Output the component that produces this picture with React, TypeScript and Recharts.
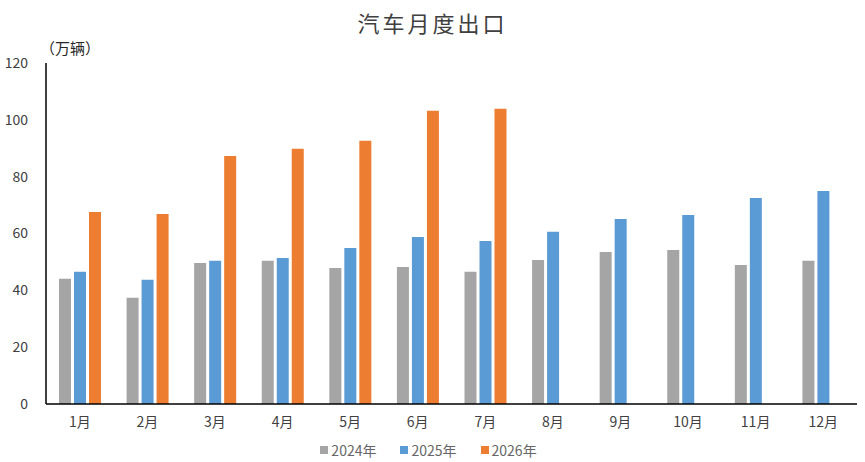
import React from 'react'
import { BarChart, Bar, XAxis, YAxis, Legend } from 'recharts'

const months = ['1月', '2月', '3月', '4月', '5月', '6月', '7月', '8月', '9月', '10月', '11月', '12月']
const exports2024 = [44.1, 37.4, 49.6, 50.4, 47.9, 48.2, 46.5, 50.7, 53.5, 54.2, 48.9, 50.4]
const exports2025 = [46.5, 43.7, 50.4, 51.4, 54.9, 58.8, 57.4, 60.6, 65.1, 66.5, 72.5, 75.0]
const exports2026 = [67.6, 66.9, 87.3, 89.8, 92.6, 103.2, 103.9, null, null, null, null, null]
const yTicks = [0, 20, 40, 60, 80, 100, 120]

const series = [
  { key: 'y2024', name: '2024年', color: '#A5A5A5' },
  { key: 'y2025', name: '2025年', color: '#5B9BD5' },
  { key: 'y2026', name: '2026年', color: '#ED7D31' },
]

const data = months.map((m, i) => ({
  month: m,
  y2024: exports2024[i],
  y2025: exports2025[i],
  y2026: exports2026[i],
}))

const font = '"Noto Sans CJK SC", "Noto Sans", sans-serif'

function ChartLegend() {
  return (
    <div style={{ display: 'flex', justifyContent: 'center', gap: 24, fontFamily: font, fontSize: 14, color: '#666' }}>
      {series.map(s => (
        <div key={s.key} style={{ display: 'flex', alignItems: 'center' }}>
          <span style={{ width: 8, height: 8, background: s.color, marginRight: 3, display: 'inline-block' }} />
          <span>{s.name}</span>
        </div>
      ))}
    </div>
  )
}

export default function App() {
  return (
    <div style={{ position: 'absolute', left: 0, top: 0, width: 865, height: 462, background: '#fff', fontFamily: font }}>
      <div style={{ position: 'absolute', left: 0, top: 6, width: 865, textAlign: 'center', fontSize: 22, color: '#404040', letterSpacing: 3 }}>
        汽车月度出口
      </div>
      <div style={{ position: 'absolute', left: 40, top: 37, fontSize: 15, color: '#262626' }}>（万辆）</div>
      <BarChart
        width={865}
        height={462}
        data={data}
        margin={{ top: 63, right: 8, left: 0, bottom: 6 }}
        barSize={12}
        barGap={3}
      >
        <XAxis
          dataKey="month"
          tickLine={false}
          tickSize={0}
          tickMargin={13}
          height={36}
          axisLine={{ stroke: '#000', strokeWidth: 1.5 }}
          tick={{ fill: '#404040', fontSize: 14, fontFamily: font }}
        />
        <YAxis
          domain={[0, 120]}
          ticks={yTicks}
          width={46}
          tickLine={false}
          tickSize={0}
          tickMargin={18}
          axisLine={{ stroke: '#000', strokeWidth: 1.5 }}
          tick={{ fill: '#404040', fontSize: 14, fontFamily: font }}
        />
        <Legend verticalAlign="bottom" height={16} content={() => <ChartLegend />} />
        {series.map(s => (
          <Bar key={s.key} dataKey={s.key} name={s.name} fill={s.color} isAnimationActive={false} />
        ))}
      </BarChart>
    </div>
  )
}
